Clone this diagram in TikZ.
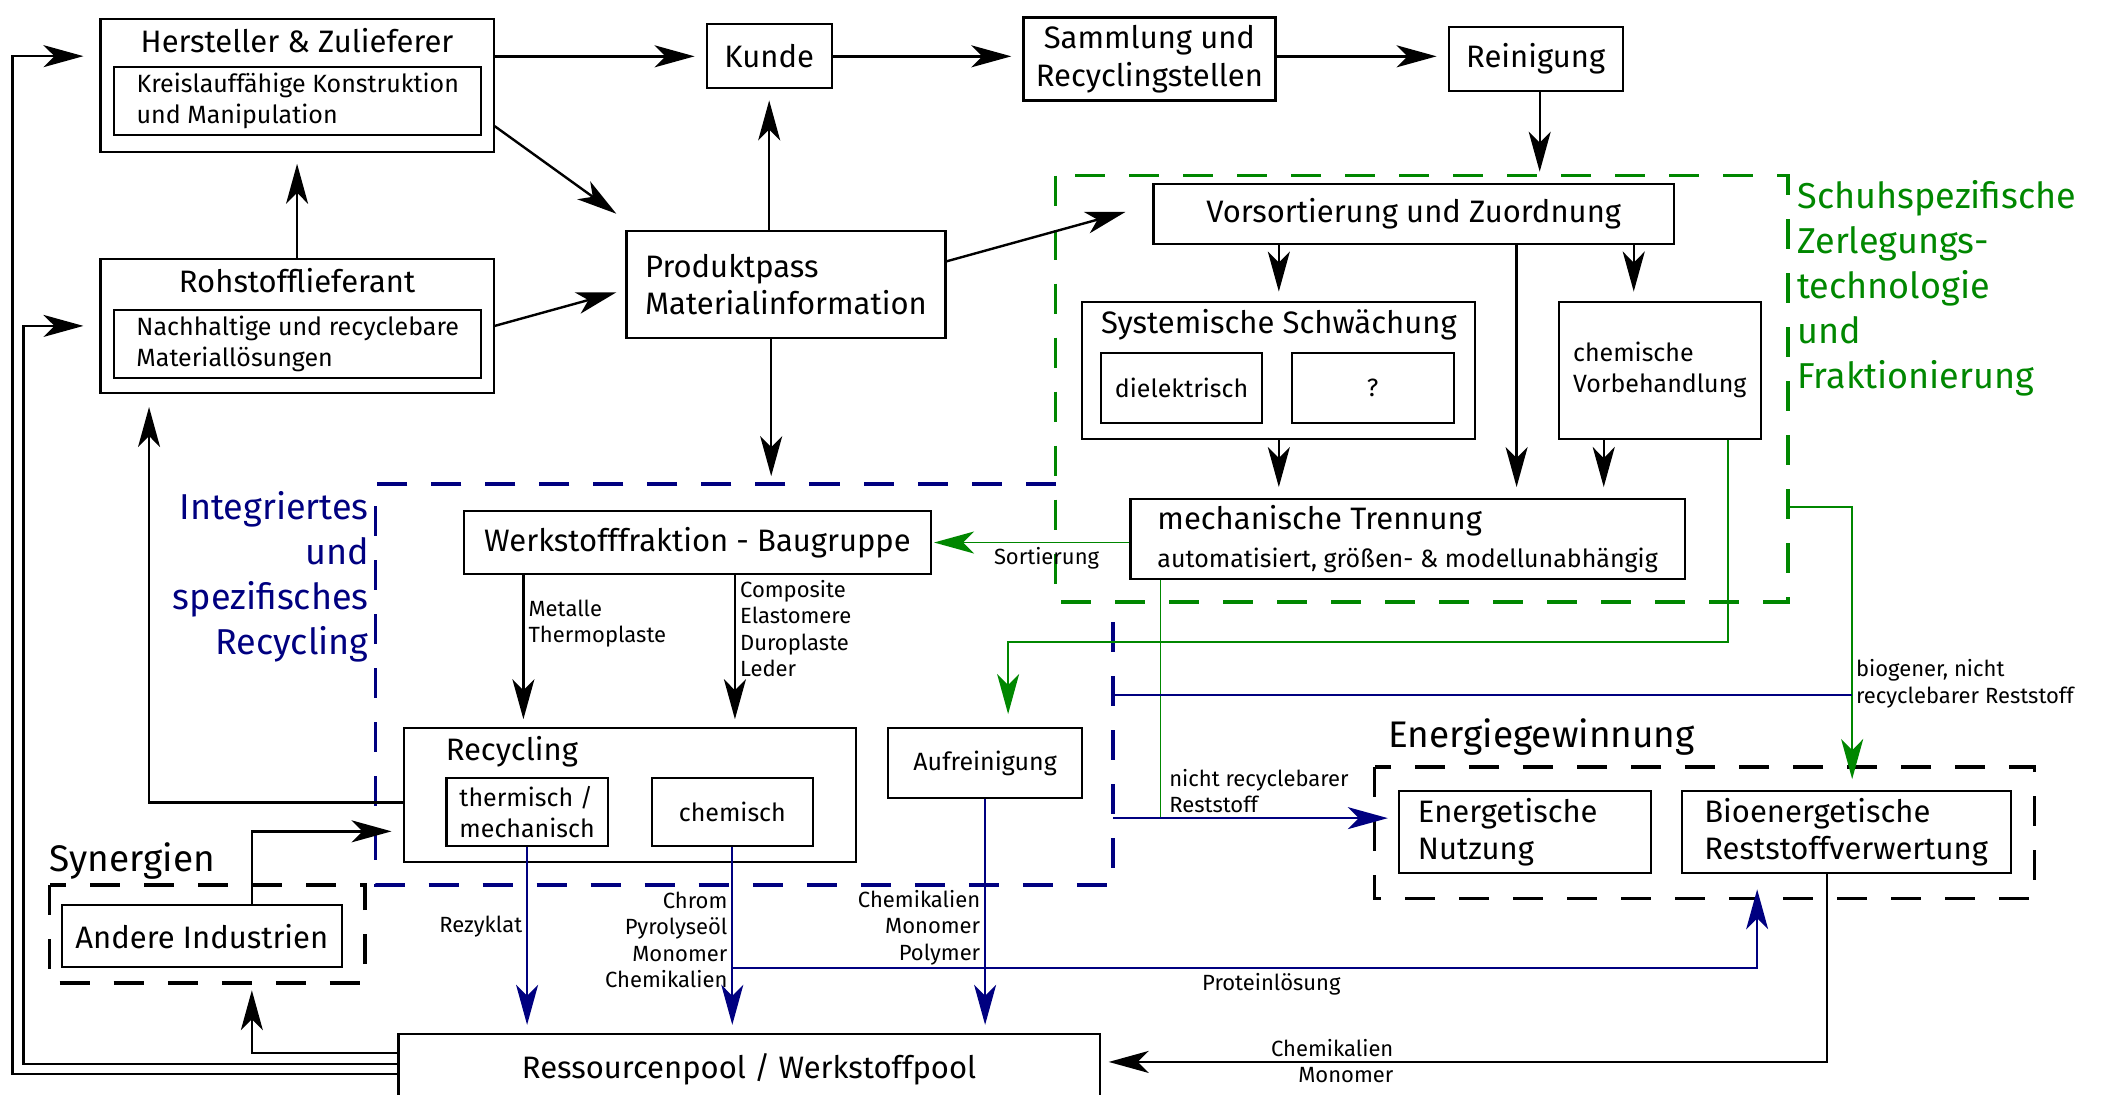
\documentclass[tikz,border=0pt]{standalone}
\usepackage{fontspec}
\setmainfont{Fira Sans}
\usetikzlibrary{arrows.meta}
\definecolor{zgreen}{RGB}{0,135,0}
\definecolor{rnavy}{RGB}{0,0,128}
\begin{document}
\begin{tikzpicture}[
    x=1.341pt, y=-1.341pt,
    box/.style={rectangle, draw, line width=2.2pt, inner sep=0pt, align=center, font=\fontsize{31}{37.5}\selectfont},
    subbox/.style={box, font=\fontsize{25}{31}\selectfont},
    head/.style={inner sep=0pt, font=\fontsize{31}{37.5}\selectfont},
    lbl/.style={inner sep=4pt, font=\fontsize{22}{26.5}\selectfont},
    region/.style={line width=3.5pt, dash pattern=on 30pt off 24pt},
    arrow/.style={-{Stealth[length=40pt, width=22pt, inset=11pt]}, line width=2.4pt, shorten >=11pt},
    garrow/.style={arrow, draw=zgreen, line width=1.8pt},
    barrow/.style={arrow, draw=rnavy, line width=1.8pt},
    gline/.style={draw=zgreen, line width=1.8pt},
    bline/.style={draw=rnavy, line width=1.8pt}
]
    \useasboundingbox (0,0) rectangle (1568,816);

    % regions
    \draw[region, zgreen] (787,131) rectangle (1333,449);
    \draw[region, rnavy] (787,361) -- (280,361) -- (280,660) -- (830,660) -- (830,460);
    \draw[region] (37,660) rectangle (272,733);
    \draw[region] (1025,572) rectangle (1517,670);

    \node[anchor=north west, inner sep=0pt, align=left, text=zgreen, font=\fontsize{36}{45}\selectfont] (zerlegung) at (1340,134) {Schuhspezifische\\Zerlegungs-\\technologie\\und\\Fraktionierung};
    \node[anchor=north east, inner sep=0pt, align=right, text=rnavy, font=\fontsize{36}{45}\selectfont] (integriert) at (275,366) {Integriertes\\und\\spezifisches\\Recycling};
    \node[head, anchor=base west, font=\fontsize{37}{44}\selectfont] (synergien) at (37,650) {Synergien};
    \node[head, anchor=base west, font=\fontsize{37}{44}\selectfont] (energie) at (1035,557) {Energiegewinnung};

    % top row
    \node[box, minimum width=393pt, minimum height=133pt] (hersteller) at (221.5,63.5) {};
    \node[head] at ([yshift=-23pt]hersteller.north) {Hersteller \& Zulieferer};
    \node[subbox, minimum width=367pt, minimum height=68pt, align=left] (kreislauf) at (222,75.5) {Kreislauffähige Konstruktion\\und Manipulation};
    \node[box, minimum width=393pt, minimum height=134pt] (rohstoff) at (221.5,243) {};
    \node[head] at ([yshift=-23pt]rohstoff.north) {Rohstofflieferant};
    \node[subbox, minimum width=367pt, minimum height=68pt, align=left] (material) at (222,256.5) {Nachhaltige und recyclebare\\Materiallösungen};
    \node[box, minimum width=125pt, minimum height=64pt] (kunde) at (573.5,42) {Kunde};
    \node[box, minimum width=252pt, minimum height=83pt] (sammlung) at (857,44) {Sammlung und\\Recyclingstellen};
    \node[box, minimum width=174pt, minimum height=64pt] (reinigung) at (1145,44) {Reinigung};
    \node[box, minimum width=319pt, minimum height=107pt, align=left] (produktpass) at (586,212) {Produktpass\\Materialinformation};

    % zerlegung
    \node[box, minimum width=520pt, minimum height=60pt] (vorsort) at (1054,159.5) {Vorsortierung und Zuordnung};
    \node[box, minimum width=393pt, minimum height=137pt] (schwaechung) at (953.5,276) {};
    \node[head] at ([yshift=-24pt]schwaechung.north) {Systemische Schwächung};
    \node[subbox, minimum width=161pt, minimum height=70pt] (dielektrisch) at (881,289) {dielektrisch};
    \node[subbox, minimum width=162pt, minimum height=70pt] (unbekannt) at (1023.5,289) {?};
    \node[subbox, minimum width=202pt, minimum height=137pt, align=left] (chemvb) at (1237.5,276) {chemische\\Vorbehandlung};
    \node[box, minimum width=554pt, minimum height=80pt, align=left] (trennung) at (1049.5,402) {mechanische Trennung\\[0pt]{\fontsize{25}{31}\selectfont automatisiert, größen- \& modellunabhängig}};

    % recycling
    \node[box, minimum width=467pt, minimum height=63pt] (werkstoff) at (520,404.5) {Werkstofffraktion - Baugruppe};
    \node[box, minimum width=452pt, minimum height=134pt] (recycling) at (469.5,593) {};
    \node[head, anchor=west] at ([shift={(43pt,-24pt)}]recycling.north west) {Recycling};
    \node[subbox, minimum width=161pt, minimum height=68pt, align=left] (thermisch) at (393,605.5) {thermisch /\\mechanisch};
    \node[subbox, minimum width=161pt, minimum height=68pt] (chemisch) at (546,605.5) {chemisch};
    \node[subbox, minimum width=194pt, minimum height=70pt] (aufreinigung) at (734.5,569) {Aufreinigung};
    \node[box, minimum width=280pt, minimum height=62pt] (andere) at (150.5,698) {Andere Industrien};
    \node[box, minimum width=701pt, minimum height=70pt] (pool) at (558.5,797) {Ressourcenpool / Werkstoffpool};

    % energie
    \node[box, text width=214pt, inner xsep=19pt, minimum height=82pt, align=left] (energetisch) at (1137,620.5) {Energetische\\Nutzung};
    \node[box, minimum width=329pt, minimum height=82pt, align=left] (bio) at (1376.5,620.5) {Bioenergetische\\Reststoffverwertung};

    \coordinate (greentop) at (1148,131);
    \coordinate (bluetop) at (575,361);
    \coordinate (greenright) at (1333,378);
    \coordinate (blueright) at (830,518);
    \coordinate (biojoin) at (1381,518);
    \coordinate (blueout) at (830,610);
    \coordinate (protein) at (546,722);

    % product flow
    \draw[arrow] (hersteller.east |- kunde.west) -- (kunde.west);
    \draw[arrow] (kunde.east) -- (kunde.east -| sammlung.west);
    \draw[arrow] (sammlung.east |- kunde.east) -- (reinigung.west |- kunde.east);
    \draw[arrow, shorten >=4pt] (reinigung.south -| greentop) -- (greentop);
    \draw[arrow] (rohstoff.north) -- (hersteller.south);
    \draw[arrow, shorten >=0pt] ([yshift=-41pt]hersteller.east) -- ([shift={(-9pt,16pt)}]produktpass.north west);
    \draw[arrow, shorten >=0pt] (rohstoff.east) -- ([shift={(-9pt,-8pt)}]produktpass.west);
    \draw[arrow, shorten >=0pt] ([yshift=23pt]produktpass.east) -- ([shift={(-27pt,2pt)}]vorsort.west);
    \draw[arrow] (produktpass.north -| kunde.south) -- (kunde.south);
    \draw[arrow, shorten >=8pt] (produktpass.south -| bluetop) -- (bluetop);

    % zerlegung
    \draw[arrow, shorten >=9pt] (vorsort.south -| schwaechung.north) -- (schwaechung.north);
    \draw[arrow, shorten >=9pt] ([xshift=-26pt]chemvb.north |- vorsort.south) -- ([xshift=-26pt]chemvb.north);
    \draw[arrow] ([xshift=109pt]trennung.north |- vorsort.south) -- ([xshift=109pt]trennung.north);
    \draw[arrow] (schwaechung.south) -- (schwaechung.south |- trennung.north);
    \draw[arrow] ([xshift=-56pt]chemvb.south) -- ([xshift=-56pt]chemvb.south |- trennung.north);
    \draw[garrow, shorten >=2pt] (trennung.west |- werkstoff.east) -- node[lbl, below, pos=0.42] {Sortierung} (werkstoff.east);
    \draw[garrow, shorten >=13pt] ([xshift=68pt]chemvb.south) -- ++(0,151) -| ([xshift=23pt]aufreinigung.north);
    \draw[gline] ([xshift=-247pt]trennung.south) -- ([xshift=-247pt]trennung.south |- blueout);
    \draw[garrow] (greenright) -| ([xshift=6pt]bio.north);

    % reststoff
    \draw[bline] (blueright) -- (biojoin) node[lbl, anchor=west, yshift=11pt, inner xsep=3pt, align=left] {biogener, nicht\\recyclebarer Reststoff};
    \draw[barrow, shorten >=10pt] (blueout) -- node[lbl, anchor=south west, pos=0.18, align=left] {nicht recyclebarer\\Reststoff} (blueout -| energetisch.west);

    % recycling
    \draw[arrow, shorten >=8pt] ([xshift=-174pt]werkstoff.south) -- node[lbl, right, align=left, pos=0.32] {Metalle\\Thermoplaste} ([xshift=-174pt]werkstoff.south |- recycling.north);
    \draw[arrow, shorten >=8pt] ([xshift=37.5pt]werkstoff.south) -- node[lbl, right, align=left, pos=0.35] {Composite\\Elastomere\\Duroplaste\\Leder} ([xshift=37.5pt]werkstoff.south |- recycling.north);
    \draw[barrow, shorten >=8pt] (thermisch.south) -- node[lbl, left, pos=0.43] {Rezyklat} (thermisch.south |- pool.north);
    \draw[barrow, shorten >=8pt] (chemisch.south) -- node[lbl, left, align=right, pos=0.5] {Chrom\\Pyrolyseöl\\Monomer\\Chemikalien} (chemisch.south |- pool.north);
    \draw[barrow, shorten >=8pt] (aufreinigung.south) -- node[lbl, left, align=right, pos=0.55] {Chemikalien\\Monomer\\Polymer} (aufreinigung.south |- pool.north);
    \draw[barrow, shorten >=15pt] (protein) -| node[lbl, below, pos=0.263] {Proteinlösung} ([xshift=-89pt]bio.south);
    \draw[arrow, shorten >=8pt] ([xshift=-19pt]bio.south) |- node[lbl, anchor=south east, pos=0.795] {Chemikalien} node[lbl, anchor=north east, pos=0.795] {Monomer} ([yshift=7pt]pool.east);

    % feedback
    \draw[arrow, shorten >=13pt] ([yshift=-7pt]recycling.west) -| ([xshift=-148pt]rohstoff.south);
    \draw[arrow] ([xshift=50pt]andere.north) |- ([yshift=-36pt]recycling.west);
    \draw[arrow, shorten >=22pt] ([yshift=16pt]pool.west) -| ([xshift=50pt]andere.south);
    \draw[arrow, shorten >=16pt] ([yshift=5pt]pool.west) -| ([xshift=-76pt]rohstoff.west) -- (rohstoff.west);
    \draw[arrow, shorten >=16pt] ([yshift=-5pt]pool.west) -| ([shift={(-87pt,29pt)}]hersteller.west) -- ([yshift=29pt]hersteller.west);
\end{tikzpicture}
\end{document}
